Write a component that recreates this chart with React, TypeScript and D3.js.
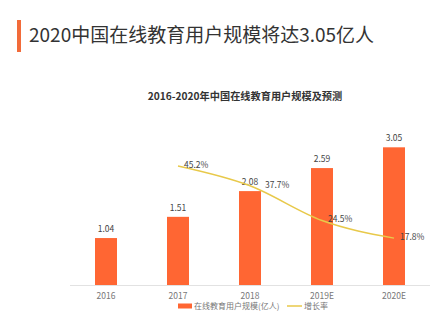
import React from "react";
import * as d3 from "d3";

const categories = ["2016", "2017", "2018", "2019E", "2020E"];
const users = [1.04, 1.51, 2.08, 2.59, 3.05];
const growthCats = ["2017", "2018", "2019E", "2020E"];
const growth = [45.2, 37.7, 24.5, 17.8];

const W = 433;
const H = 321;
const FONT = "'Noto Sans CJK SC', 'Noto Sans', sans-serif";

export default function App() {
  const left = 70, right = 430, top = 127, bottom = 285;
  const x = d3.scaleBand().domain(categories).range([left, right]).paddingInner(0).paddingOuter(0);
  const barW = 22;
  const yBar = d3.scaleLinear().domain([0, 3.5]).range([bottom, top]);
  const yLine = d3.scaleLinear().domain([0, 60]).range([bottom, top]);
  const cx = (c: string) => (x(c) as number) + x.bandwidth() / 2;

  const pts: [number, number][] = growthCats.map((c, i) => [cx(c), yLine(growth[i])]);
  const linePath = d3.line().curve(d3.curveMonotoneX)(pts) || "";

  // label placement: avoid overlapping the bar value label when the line passes near it
  const labelDx = (i: number) => {
    const ci = categories.indexOf(growthCats[i]);
    const barLabelY = yBar(users[ci]) - 6;
    return Math.abs(barLabelY - pts[i][1]) < 10 ? 15 : 6;
  };

  return (
    <svg width={W} height={H} style={{ position: "absolute", left: 0, top: 0, background: "#fff" }} fontFamily={FONT}>
      <rect x={17} y={20} width={4} height={32} fill="#F26B3A" />
      <text x={29} y={42} fontSize={19} fill="#333">2020中国在线教育用户规模将达3.05亿人</text>
      <text x={245} y={100} fontSize={10.2} fontWeight="bold" fill="#333" textAnchor="middle">2016-2020年中国在线教育用户规模及预测</text>

      <line x1={left} x2={right} y1={bottom + 0.5} y2={bottom + 0.5} stroke="#e2e2e2" strokeWidth={1} />

      {categories.map((c, i) => (
        <g key={c}>
          <rect x={cx(c) - barW / 2} y={yBar(users[i])} width={barW} height={bottom - yBar(users[i])} fill="#FF6633" />
          <text x={cx(c)} y={yBar(users[i]) - 6} fontSize={8.5} fill="#444" textAnchor="middle">{users[i].toFixed(2)}</text>
          <text x={cx(c)} y={299} fontSize={8.5} fill="#777" textAnchor="middle">{c}</text>
        </g>
      ))}

      <path d={linePath} fill="none" stroke="#E8C94A" strokeWidth={1.5} />
      {pts.map((p, i) => (
        <text key={i} x={p[0] + labelDx(i)} y={p[1] + 2} fontSize={8.5} fill="#444">{growth[i].toFixed(1)}%</text>
      ))}

      <rect x={178} y={303.5} width={14} height={5} fill="#FF6633" />
      <text x={194} y={309} fontSize={8} fill="#777">在线教育用户规模(亿人)</text>
      <line x1={287} x2={302} y1={306} y2={306} stroke="#E8C94A" strokeWidth={1.5} />
      <text x={304} y={309} fontSize={8} fill="#777">增长率</text>
    </svg>
  );
}
